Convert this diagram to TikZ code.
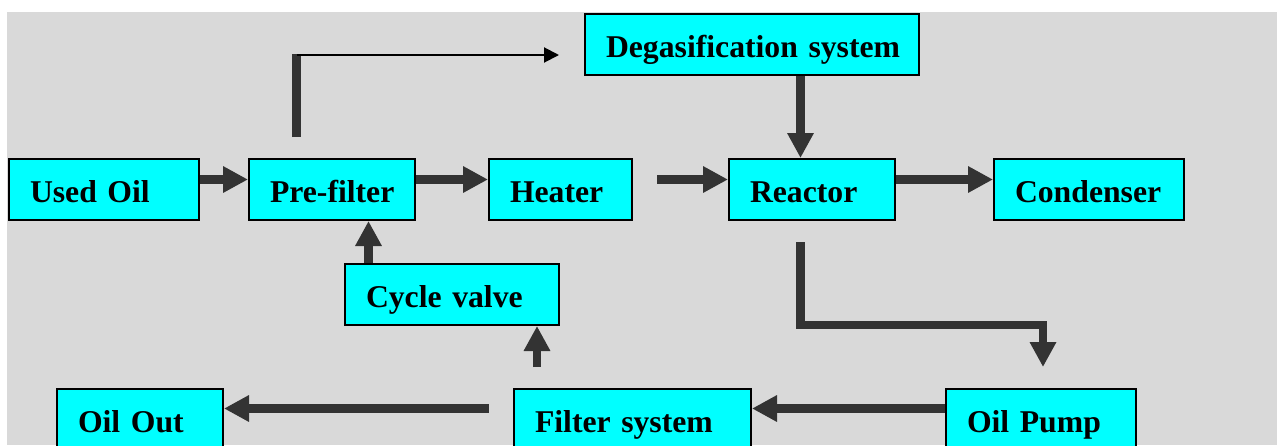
\documentclass[tikz,border=0pt]{standalone}
\usepackage{fontspec}
\setmainfont{Liberation Serif}
\usetikzlibrary{arrows.meta,calc}
\definecolor{bggray}{HTML}{D9D9D9}
\definecolor{arrowgray}{HTML}{333333}
\definecolor{boxcyan}{HTML}{00FFFF}
\begin{document}
\begin{tikzpicture}[x=1pt,y=-1pt,
  procbox/.style={draw=black, line width=2pt, fill=boxcyan, rectangle,
    inner xsep=21pt, inner ysep=0pt, align=left, minimum height=61pt,
    text height=28pt, text depth=3pt,
    font=\fontsize{31.7}{38}\selectfont\bfseries},
  flow/.style={draw=arrowgray, line width=8.5pt, -{Triangle[length=25pt,width=25pt]}},
  flowline/.style={draw=arrowgray, line width=8.5pt},
  thinflow/.style={draw=black, line width=2pt, -{Triangle[length=15pt,width=15pt]}}]
\useasboundingbox (0,0) rectangle (1277,445);
\clip (0,0) rectangle (1277,445);
\fill[bggray] (7,12) rectangle (1277,445);

\node[procbox, minimum width=190pt, text width=148pt] (used) at (104,189.5) {\mbox{Used Oil}};
\node[procbox, minimum width=166pt, text width=124pt] (pre) at (332,189.5) {\mbox{Pre-filter}};
\node[procbox, minimum width=143pt, text width=101pt] (heater) at (560.5,189.5) {\mbox{Heater}};
\node[procbox, minimum width=334pt, text width=292pt] (degas) at (752,44.5) {\mbox{Degasification system}};
\node[procbox, minimum width=166pt, text width=124pt] (reactor) at (812,189.5) {\mbox{Reactor}};
\node[procbox, minimum width=190pt, text width=148pt] (condenser) at (1089,189.5) {\mbox{Condenser}};
\node[procbox, minimum width=214pt, text width=172pt] (cycle) at (452,294.5) {\mbox{Cycle valve}};
\node[procbox, minimum width=166pt, text width=124pt] (oilout) at (140,419.5) {\mbox{Oil Out}};
\node[procbox, minimum width=237pt, text width=195pt] (filter) at (632.5,419.5) {\mbox{Filter system}};
\node[procbox, minimum width=190pt, text width=148pt] (pump) at (1041,419.5) {\mbox{Oil Pump}};

% top row
\draw[flow] ([yshift=10pt]used.east) -- ([yshift=10pt]pre.west);
\draw[flow] ([yshift=10pt]pre.east) -- ([yshift=10pt]heater.west);
\draw[flow] ([shift={(24pt,10pt)}]heater.east) -- ([yshift=10pt]reactor.west);
\draw[flow] ([yshift=10pt]reactor.east) -- ([yshift=10pt]condenser.west);
% degas to reactor
\draw[flow] ([xshift=48.5pt]degas.south) -- ([xshift=48.5pt]degas.south |- reactor.north);
% pre-filter to degas
\coordinate (turn) at ($(pre.north)+(-35.5pt,103pt)$);
\draw[flowline] ([shift={(-35.5pt,21pt)}]pre.north) -- ([yshift=1pt]turn);
\draw[thinflow] (turn) -- ([shift={(-25pt,-10.5pt)}]degas.west);
% cycle valve to pre-filter
\draw[flow] ([xshift=-83.5pt]cycle.north) -- ([xshift=-83.5pt]cycle.north |- pre.south);
% filter to cycle valve
\draw[flow] ([shift={(-95.5pt,21pt)}]filter.north) -- ([xshift=-95.5pt]filter.north |- cycle.south);
% reactor to pump
\draw[flow, line join=miter] ([shift={(-11.5pt,-21pt)}]reactor.south) |- ([shift={(2pt,63pt)}]pump.north) -- ([shift={(2pt,21pt)}]pump.north);
% bottom row
\draw[flow] ([yshift=11pt]pump.west) -- ([yshift=11pt]filter.east);
\draw[flow] ([shift={(-24.5pt,11pt)}]filter.west) -- ([yshift=11pt]oilout.east);
\end{tikzpicture}
\end{document}
